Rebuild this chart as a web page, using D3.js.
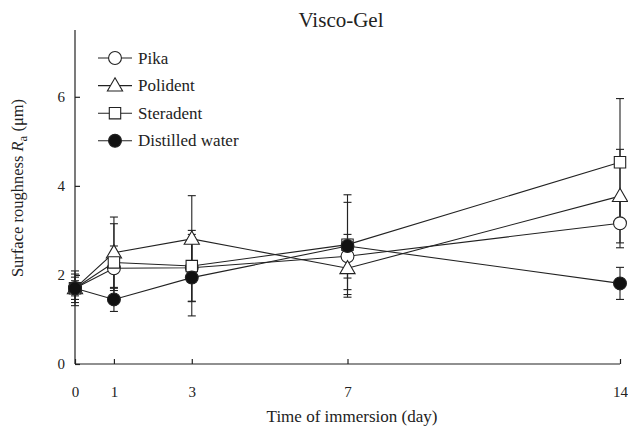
<!DOCTYPE html>
<html>
<head>
<meta charset="utf-8">
<script src="https://cdn.jsdelivr.net/npm/d3@7"></script>
<style>
  body { margin: 0; background: #fff; }
  svg text { font-family: "Liberation Serif", "DejaVu Serif", serif !important; fill: #222; }
</style>
</head>
<body>
<div id="chart"></div>
<script>
// days of immersion
let days = [0, 1, 3, 7, 14];
let xTicks = [0, 1, 3, 7, 14];
let yTicks = [0, 2, 4, 6];

// mean surface roughness Ra (um)
let pika      = [1.70, 2.15, 2.16, 2.42, 3.16];
let polident  = [1.70, 2.50, 2.81, 2.15, 3.77];
let steradent = [1.70, 2.28, 2.20, 2.68, 4.53];
let water     = [1.70, 1.45, 1.94, 2.65, 1.81];

// standard deviations
let pikaSd      = [0.32, 0.50, 0.75, 0.49, 0.55];
let polidentSd  = [0.39, 0.80, 0.97, 0.65, 1.05];
let steradentSd = [0.17, 0.87, 0.80, 1.12, 1.43];
let waterSd     = [0.25, 0.27, 0.86, 0.98, 0.36];

let seriesNames = ["Pika", "Polident", "Steradent", "Distilled water"];

let margin = {top: 30, right: 8, bottom: 63, left: 75};
let width = 628, height = 427;
let serif = "'Liberation Serif', 'DejaVu Serif', serif";

let svg = d3.select("#chart").append("svg")
    .attr("width", width)
    .attr("height", height)
    .style("font-family", serif);

svg.append("rect").attr("width", width).attr("height", height).style("fill", "#fff");

let x = d3.scaleLinear().domain([0, 14]).range([margin.left, 620]);
let y = d3.scaleLinear().domain([0, 7.5]).range([364, margin.top]);

let series = [
    {name: seriesNames[0], values: pika, sd: pikaSd, shape: "circle", fill: "#fff"},
    {name: seriesNames[1], values: polident, sd: polidentSd, shape: "triangle", fill: "#fff"},
    {name: seriesNames[2], values: steradent, sd: steradentSd, shape: "square", fill: "#fff"},
    {name: seriesNames[3], values: water, sd: waterSd, shape: "circle", fill: "#111"}
];

//axes
let xAxis = d3.axisBottom(x).tickValues(xTicks).tickSize(-5).tickPadding(22).tickSizeOuter(0);
let yAxis = d3.axisLeft(y).tickValues(yTicks).tickSize(-5).tickPadding(10).tickSizeOuter(0);

let gx = svg.append("g").attr("transform", "translate(0," + y(0) + ")").call(xAxis)
    .attr("font-family", serif).attr("font-size", 15);
let gy = svg.append("g").attr("transform", "translate(" + x(0) + ",0)").call(yAxis)
    .attr("font-family", serif).attr("font-size", 15);
svg.selectAll(".domain, .tick line").attr("stroke", "#222").attr("stroke-width", 1.2);
gy.select(".domain").attr("d", "M0," + y(0) + "V" + margin.top);
gx.select(".domain").attr("d", "M" + x(0) + ",0H" + x(14));

//title and axis labels
svg.append("text").attr("x", 341).attr("y", 27).attr("text-anchor", "middle")
    .style("font-size", "21px").text("Visco-Gel");
svg.append("text").attr("x", 352).attr("y", 422).attr("text-anchor", "middle")
    .style("font-size", "17px").text("Time of immersion (day)");

let yl = svg.append("text").attr("transform", "translate(23,188) rotate(-90)")
    .attr("text-anchor", "middle").style("font-size", "16.5px");
yl.append("tspan").text("Surface roughness ");
yl.append("tspan").style("font-style", "italic").text("R");
yl.append("tspan").attr("dy", 4).style("font-size", "13px").text("a");
yl.append("tspan").attr("dy", -4).text("  (\u03bcm)");

let symbol = function(shape) {
    if (shape === "triangle") return d3.symbol().type(d3.symbolTriangle).size(100)();
    if (shape === "square") return d3.symbol().type(d3.symbolSquare).size(130)();
    return d3.symbol().type(d3.symbolCircle).size(130)();
};

let line = d3.line().x((d, i) => x(days[i])).y(d => y(d));

//lines
series.forEach(function(s) {
    svg.append("path").attr("d", line(s.values))
        .attr("fill", "none").attr("stroke", "#222").attr("stroke-width", 1.1);
});

//error bars
series.forEach(function(s) {
    let g = svg.append("g").attr("stroke", "#222").attr("stroke-width", 1.1);
    s.values.forEach(function(v, i) {
        let cx = x(days[i]);
        let lo = y(v - s.sd[i]), hi = y(v + s.sd[i]);
        g.append("line").attr("x1", cx).attr("x2", cx).attr("y1", lo).attr("y2", hi);
        g.append("line").attr("x1", cx - 4).attr("x2", cx + 4).attr("y1", lo).attr("y2", lo);
        g.append("line").attr("x1", cx - 4).attr("x2", cx + 4).attr("y1", hi).attr("y2", hi);
    });
});

//markers
series.forEach(function(s) {
    svg.append("g").selectAll("path").data(s.values).join("path")
        .attr("d", symbol(s.shape))
        .attr("transform", (d, i) => "translate(" + x(days[i]) + "," + (y(d) + (s.shape === "triangle" ? 1 : 0)) + ")")
        .attr("fill", s.fill).attr("stroke", "#222").attr("stroke-width", 1.1);
});

//legend
let legend = svg.append("g");
series.forEach(function(s, i) {
    let ly = 58 + i * 27.6;
    legend.append("line").attr("x1", 98).attr("x2", 132).attr("y1", ly).attr("y2", ly)
        .attr("stroke", "#222").attr("stroke-width", 1.1);
    legend.append("path").attr("d", symbol(s.shape))
        .attr("transform", "translate(115," + (ly + (s.shape === "triangle" ? 1 : 0)) + ")")
        .attr("fill", s.fill).attr("stroke", "#222").attr("stroke-width", 1.1);
    legend.append("text").attr("x", 138).attr("y", ly + 5.5).style("font-size", "17px").text(s.name);
});
</script>
</body>
</html>
